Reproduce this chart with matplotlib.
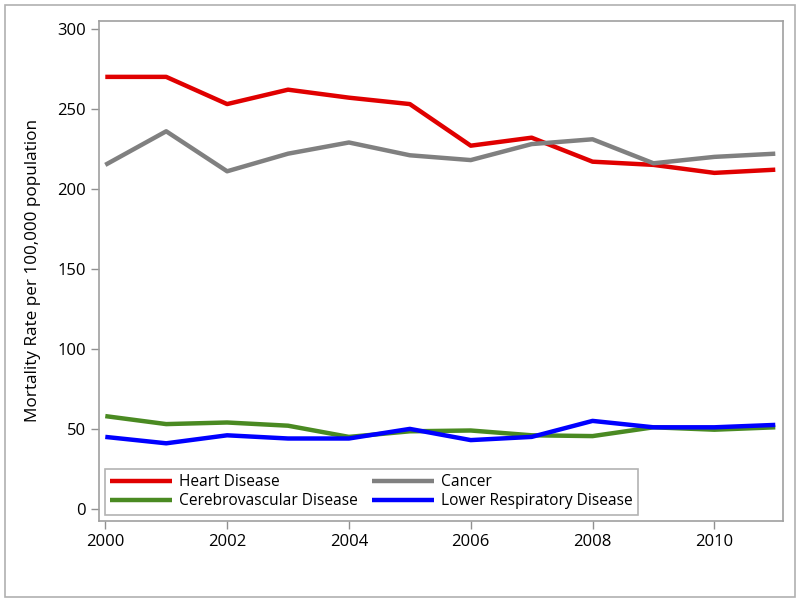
import matplotlib
matplotlib.use("Agg")
import matplotlib.pyplot as plt
from matplotlib.patches import Rectangle

plt.rcParams['font.family'] = ['Open Sans', 'DejaVu Sans']

years = [2000, 2001, 2002, 2003, 2004, 2005, 2006, 2007, 2008, 2009, 2010, 2011]
heart = [270, 270, 253, 262, 257, 253, 227, 232, 217, 215, 210, 212]
cancer = [215, 236, 211, 222, 229, 221, 218, 228, 231, 216, 220, 222]
cerebro = [58, 53, 54, 52, 45, 48.5, 49, 46, 45.5, 51, 49.5, 51]
lower_resp = [45, 41, 46, 44, 44, 50, 43, 45, 55, 51, 51, 52.5]

series = [
    ("Heart Disease", heart, "#e00000"),
    ("Cancer", cancer, "#808080"),
    ("Cerebrovascular Disease", cerebro, "#4a8a22"),
    ("Lower Respiratory Disease", lower_resp, "#0000ff"),
]

fig = plt.figure(figsize=(8, 6.05), dpi=100)
# outer frame round the whole graph
fig.patches.append(Rectangle((0.0065, 0.013), 0.987, 0.978, transform=fig.transFigure,
                             fill=False, edgecolor="#b0b0b0", linewidth=1.2))

ax = fig.add_axes([0.124, 0.139, 0.855, 0.8265])
lines = {}
for name, vals, col in series:
    lines[name], = ax.plot(years, vals, color=col, linewidth=3.2, label=name,
                           solid_capstyle="butt")

ax.set_xlim(1999.9, 2011.13)
ax.set_ylim(-7.5, 305)
ax.set_xticks([2000, 2002, 2004, 2006, 2008, 2010])
ax.set_yticks([0, 50, 100, 150, 200, 250, 300])
ax.set_ylabel("Mortality Rate per 100,000 population", fontsize=12.3, labelpad=12)
ax.tick_params(direction="out", length=6, width=1, color="#909090", labelsize=12)
for sp in ax.spines.values():
    sp.set_color("#a0a0a0")
    sp.set_linewidth(1.2)

# row-wise order like the original: Heart, Cancer / Cerebro, Lower Resp
order = ["Heart Disease", "Cerebrovascular Disease", "Cancer", "Lower Respiratory Disease"]
leg = ax.legend([lines[n] for n in order], order, ncol=2, loc="lower left",
                bbox_to_anchor=(0.008, 0.012), fontsize=11.2,
                frameon=True, fancybox=False, handlelength=4.0, handletextpad=0.45,
                columnspacing=0.9, borderpad=0.35, labelspacing=0.2, borderaxespad=0)
leg.get_frame().set_edgecolor("#a0a0a0")
leg.get_frame().set_linewidth(1.2)

fig.savefig("out.png", dpi=100)
